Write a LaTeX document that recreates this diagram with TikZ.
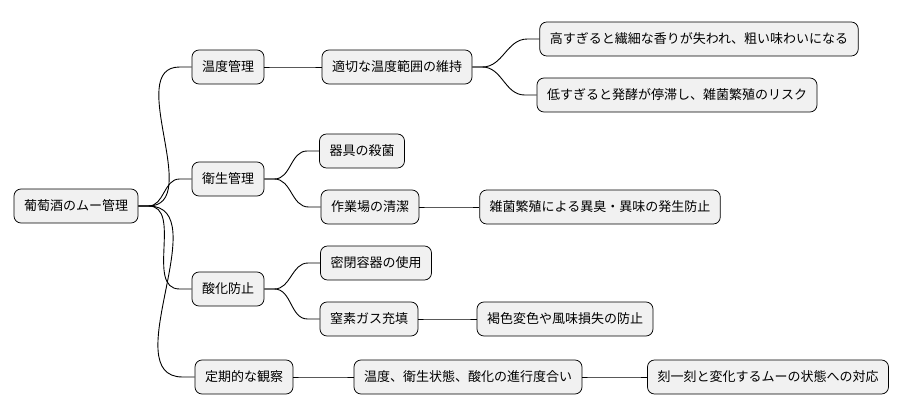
\documentclass[tikz,border=0pt]{standalone}
\usepackage{fontspec}
\setmainfont{Noto Sans CJK JP}
\tikzset{every picture/.style={line width=0.75pt}}
\tikzset{
  topic/.style={draw=black, fill={rgb,255:red,241;green,241;blue,241}, rounded corners=7pt,
    minimum height=34pt, inner xsep=10pt, font=\fontsize{13}{15}\selectfont},
  branch/.style={draw=black, line width=0.9pt}
}
\begin{document}
\begin{tikzpicture}[x=1pt,y=1pt,yscale=-1,xscale=1]
\useasboundingbox (0,0) rectangle (908,415);

% Nodes
\node [topic] (root) at (76,206) {葡萄酒のムー管理};
\node [topic] (temp) at (228,67) {温度管理};
\node [topic] (keep) at (397,67) {適切な温度範囲の維持};
\node [topic] (high) at (699,39) {高すぎると繊細な香りが失われ、粗い味わいになる};
\node [topic] (low) at (677,95) {低すぎると発酵が停滞し、雑菌繁殖のリスク};
\node [topic] (hyg) at (228,179) {衛生管理};
\node [topic] (ster) at (362,151) {器具の殺菌};
\node [topic] (clean) at (370,207) {作業場の清潔};
\node [topic] (smell) at (600,207) {雑菌繁殖による異臭・異味の発生防止};
\node [topic] (oxi) at (228,289) {酸化防止};
\node [topic] (seal) at (376,263) {密閉容器の使用};
\node [topic] (nitro) at (369,319) {窒素ガス充填};
\node [topic] (brown) at (565,319) {褐色変色や風味損失の防止};
\node [topic] (obs) at (244,377) {定期的な観察};
\node [topic] (prog) at (468,377) {温度、衛生状態、酸化の進行度合い};
\node [topic] (resp) at (768,377) {刻一刻と変化するムーの状態への対応};

% Connectors
\foreach \p/\c in {root/temp,root/hyg,root/oxi,root/obs,temp/keep,keep/high,keep/low,
  hyg/ster,hyg/clean,clean/smell,oxi/seal,oxi/nitro,nitro/brown,obs/prog,prog/resp}
  \draw [branch] (\p.east) -- ++(10,0) to[out=0,in=180] ([xshift=-12pt]\c.west) -- (\c.west);

\end{tikzpicture}
\end{document}
